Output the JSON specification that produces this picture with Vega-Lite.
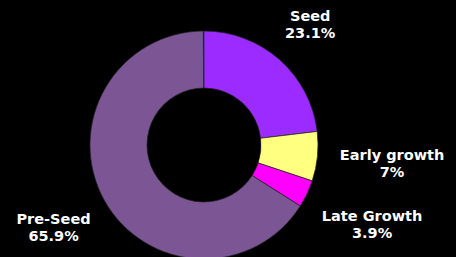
{
  "$schema": "https://vega.github.io/schema/vega-lite/v6.json",
  "width": 408,
  "height": 224,
  "autosize": {"type": "none"},
  "padding": {"left": 0, "top": 33, "right": 48, "bottom": 0},
  "background": "#000000",
  "config": {"view": {"stroke": null}},
  "data": {
    "values": [
      {"stage": "Seed", "pct": 23.1, "rank": 1},
      {"stage": "Early growth", "pct": 7, "rank": 2},
      {"stage": "Late Growth", "pct": 3.9, "rank": 3},
      {"stage": "Pre-Seed", "pct": 65.9, "rank": 4}
    ]
  },
  "transform": [
    {"stack": "pct", "groupby": [], "sort": [{"field": "rank", "order": "ascending"}], "as": ["t0", "t1"]},
    {"calculate": "(datum.t0 + datum.t1) / 2", "as": "tmid"},
    {"calculate": "[datum.stage, datum.pct + '%']", "as": "label"}
  ],
  "layer": [
    {
      "mark": {"type": "arc", "outerRadius": 114, "innerRadius": 57, "stroke": "#222222", "strokeWidth": 0.7},
      "encoding": {
        "theta": {"field": "t0", "type": "quantitative", "scale": {"domain": [0, 100]}},
        "theta2": {"field": "t1"},
        "color": {
          "field": "stage",
          "type": "nominal",
          "scale": {
            "domain": ["Seed", "Early growth", "Late Growth", "Pre-Seed"],
            "range": ["#9B2BFF", "#FFFF80", "#FF00FF", "#7B5594"]
          },
          "legend": null
        }
      }
    },
    {
      "mark": {"type": "text", "font": "DejaVu Sans", "fontWeight": "bold", "fontSize": 14.5, "lineHeight": 17, "dy": -8, "fill": "#ffffff", "align": "center", "baseline": "middle"},
      "encoding": {
        "theta": {"field": "tmid", "type": "quantitative", "scale": {"domain": [0, 100]}},
        "text": {"field": "label"},
        "radius": {
          "field": "rank",
          "type": "quantitative",
          "scale": {
            "type": "linear",
            "zero": false,
            "domain": [1, 2, 3, 4],
            "range": [160, 189, 186, 172]
          },
          "legend": null
        }
      }
    }
  ]
}
